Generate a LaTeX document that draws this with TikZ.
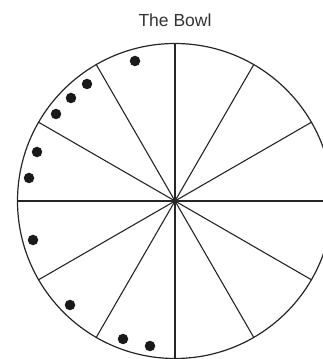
\documentclass[tikz,border=0pt]{standalone}
\usepackage{fontspec}
\setsansfont{Liberation Sans}
\pgfdeclarelayer{edgelayer}
\pgfdeclarelayer{nodelayer}
\pgfsetlayers{edgelayer,nodelayer,main}
\tikzstyle{spoke}=[draw=black!85, line width=1.1pt]
\tikzstyle{rim}=[draw=black!85, line width=1.2pt]
\tikzstyle{bead}=[circle, fill=black!90, draw=none, inner sep=0pt, minimum size=10.5pt]
\tikzstyle{title}=[font=\sffamily\fontsize{17.5}{20}\selectfont, text=black!80, inner sep=0pt]

\begin{document}
\begin{tikzpicture}[x=1pt, y=1pt]
				\clip (0,0) rectangle (322,359);
				\useasboundingbox (0,0) rectangle (322,359);
				\begin{pgfonlayer}{nodelayer}
					\node [style=title] (t) at (175, 339) {The Bowl};
					\coordinate (c) at (175, 158);
					\coordinate (0) at (332.5, 158);
					\coordinate (1) at (311.4, 236.75);
					\coordinate (2) at (253.75, 294.4);
					\coordinate (3) at (175, 315.5);
					\coordinate (4) at (96.25, 294.4);
					\coordinate (5) at (38.6, 236.75);
					\coordinate (6) at (17.5, 158);
					\coordinate (7) at (38.6, 79.25);
					\coordinate (8) at (96.25, 21.6);
					\coordinate (9) at (175, 0.5);
					\coordinate (10) at (253.75, 21.6);
					\coordinate (11) at (311.4, 79.25);
					\node [style=bead] (b0) at (135, 298) {};
					\node [style=bead] (b1) at (87, 275) {};
					\node [style=bead] (b2) at (71, 261) {};
					\node [style=bead] (b3) at (56, 245) {};
					\node [style=bead] (b4) at (37, 207) {};
					\node [style=bead] (b5) at (29, 181) {};
					\node [style=bead] (b6) at (33, 119) {};
					\node [style=bead] (b7) at (70, 54) {};
					\node [style=bead] (b8) at (123, 20) {};
					\node [style=bead] (b9) at (150, 13) {};
				\end{pgfonlayer}
				\begin{pgfonlayer}{edgelayer}
					\draw [style=rim] (c) circle (157.5);
					\draw [style=spoke] (c) to (0);
					\draw [style=spoke] (c) to (1);
					\draw [style=spoke] (c) to (2);
					\draw [style=spoke] (c) to (3);
					\draw [style=spoke] (c) to (4);
					\draw [style=spoke] (c) to (5);
					\draw [style=spoke] (c) to (6);
					\draw [style=spoke] (c) to (7);
					\draw [style=spoke] (c) to (8);
					\draw [style=spoke] (c) to (9);
					\draw [style=spoke] (c) to (10);
					\draw [style=spoke] (c) to (11);
					\fill [black!85] (c) circle (2.5);
				\end{pgfonlayer}
			\end{tikzpicture}
\end{document}
